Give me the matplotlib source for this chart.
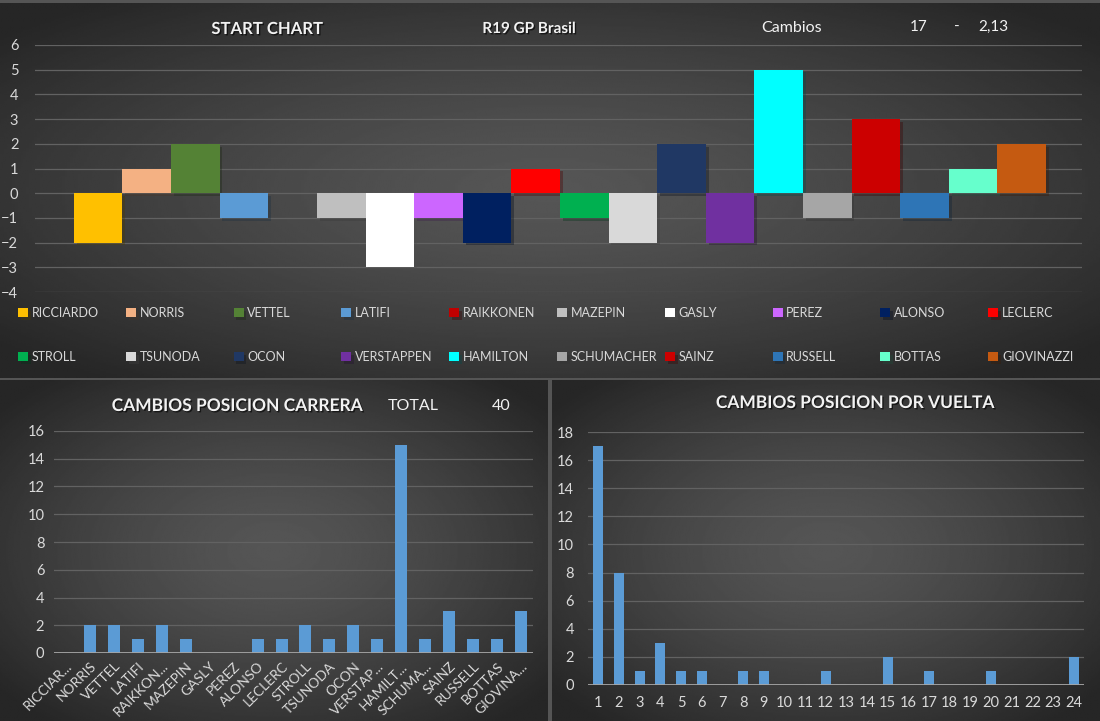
import numpy as np
import matplotlib.pyplot as plt
from matplotlib import patheffects as pe

plt.rcParams['font.family'] = ['Lato', 'DejaVu Sans']

# --- data ---
drivers = ['RICCIARDO', 'NORRIS', 'VETTEL', 'LATIFI', 'RAIKKONEN', 'MAZEPIN', 'GASLY',
           'PEREZ', 'ALONSO', 'LECLERC', 'STROLL', 'TSUNODA', 'OCON', 'VERSTAPPEN',
           'HAMILTON', 'SCHUMACHER', 'SAINZ', 'RUSSELL', 'BOTTAS', 'GIOVINAZZI']
driver_colors = ['#FFC000', '#F4B183', '#548235', '#5B9BD5', '#C00000', '#BFBFBF', '#FFFFFF',
                 '#CC66FF', '#002060', '#FF0000', '#00B050', '#D9D9D9', '#203864', '#7030A0',
                 '#00FFFF', '#A6A6A6', '#CC0000', '#2E75B6', '#66FFCC', '#C55A11']
start_delta = [-2, 1, 2, -1, 0, -1, -3, -1, -2, 1, -1, -2, 2, -2, 5, -1, 3, -1, 1, 2]

race_labels = ['RICCIAR...', 'NORRIS', 'VETTEL', 'LATIFI', 'RAIKKON...', 'MAZEPIN', 'GASLY',
               'PEREZ', 'ALONSO', 'LECLERC', 'STROLL', 'TSUNODA', 'OCON', 'VERSTAP...',
               'HAMILT...', 'SCHUMA...', 'SAINZ', 'RUSSELL', 'BOTTAS', 'GIOVINA...']
race_changes = [0, 2, 2, 1, 2, 1, 0, 0, 1, 1, 2, 1, 2, 1, 15, 1, 3, 1, 1, 3]

laps = list(range(1, 25))
lap_changes = [17, 8, 1, 3, 1, 1, 0, 1, 1, 0, 0, 1, 0, 0, 2, 0, 1, 0, 0, 1, 0, 0, 0, 2]

W, H = 1100, 721
TXT = '#d9d9d9'
GRID = '#626262'
BAR = '#5B9BD5'


def fx(x):
    return x / W


def fy(y):
    return 1 - y / H


def panel(fig, x0, y0, x1, y1):
    ax = fig.add_axes([fx(x0), fy(y1), fx(x1) - fx(x0), fy(y0) - fy(y1)], zorder=-5)
    yy, xx = np.mgrid[-1:1:240j, -1:1:400j]
    r = np.clip(np.sqrt(xx ** 2 + yy ** 2) / 1.3, 0, 1)
    val = 0.335 - (0.335 - 0.15) * r ** 1.4
    ax.imshow(val, cmap='gray', vmin=0, vmax=1, aspect='auto', interpolation='bilinear')
    ax.axis('off')
    return ax


def style(ax):
    ax.set_facecolor('none')
    for s in ax.spines.values():
        s.set_visible(False)
    ax.grid(axis='y', color=GRID, lw=0.9)
    ax.set_axisbelow(True)
    ax.tick_params(colors=TXT, length=0, labelsize=10.5)


def title(fig, x, y, s, size=11.5, bold=True):
    t = fig.text(fx(x), fy(y), s, ha='center', va='center', color='#f2f2f2',
                 fontsize=size, fontweight='bold' if bold else 'normal')
    if bold:
        t.set_path_effects([pe.withSimplePatchShadow(offset=(1, -1), shadow_rgbFace='black', alpha=0.6)])
    return t


fig = plt.figure(figsize=(11, 7.21), dpi=100)
fig.patch.set_facecolor('#555555')

panel(fig, 0, 3, 1100, 378)
panel(fig, 0, 380, 548, 721)
panel(fig, 552, 380, 1100, 721)

# --- top: start chart ---
ax1 = fig.add_axes([fx(35), fy(292), fx(1082) - fx(35), fy(45) - fy(292)])
style(ax1)
bars = []
for i, (name, v, c) in enumerate(zip(drivers, start_delta, driver_colors)):
    b = ax1.bar(i, v, width=1, color=c, label=name, linewidth=0)
    for p in b:
        p.set_path_effects([pe.SimplePatchShadow(offset=(2, -2), alpha=0.35), pe.Normal()])
    bars.append(b)
ax1.set_xlim(-1.3, 20.24)
ax1.set_ylim(-4, 6)
ax1.set_yticks(range(-4, 7))
ax1.set_xticks([])
ax1.tick_params(axis='y', pad=12)

title(fig, 267, 29, 'START CHART', size=12)
title(fig, 529, 29, 'R19 GP Brasil', size=11)
fig.text(fx(792), fy(28), 'Cambios', ha='center', va='center', color='#f2f2f2', fontsize=11.5)
fig.text(fx(919), fy(27), '17', ha='center', va='center', color='#f2f2f2', fontsize=11)
fig.text(fx(957), fy(27), '-', ha='center', va='center', color='#f2f2f2', fontsize=11)
fig.text(fx(993), fy(27), '2,13', ha='center', va='center', color='#f2f2f2', fontsize=11)

for col in range(10):
    hs = [bars[col], bars[col + 10]]
    ls = [drivers[col], drivers[col + 10]]
    fig.legend(hs, ls, loc='upper left', bbox_to_anchor=(fx(18 + col * 107.8), fy(307)),
               frameon=False, labelcolor=TXT, fontsize=9, handlelength=0.8,
               handleheight=0.8, handletextpad=0.3, labelspacing=2.55,
               borderpad=0, borderaxespad=0)

# --- bottom left: race position changes ---
ax2 = fig.add_axes([fx(54), fy(653), fx(533) - fx(54), fy(431) - fy(653)])
style(ax2)
x2 = np.arange(len(race_labels))
ax2.bar(x2, race_changes, width=0.5, color=BAR, linewidth=0, zorder=3)
ax2.set_xlim(-0.5, len(race_labels) - 0.5)
ax2.set_ylim(0, 16)
ax2.set_yticks(range(0, 17, 2))
ax2.set_xticks(x2)
ax2.set_xticklabels(race_labels, rotation=45, ha='right', rotation_mode='anchor', fontsize=10)
ax2.tick_params(axis='y', pad=7)
ax2.tick_params(axis='x', pad=5)
ax2.axhline(0, color='#a6a6a6', lw=2, zorder=4)

title(fig, 237, 406, 'CAMBIOS POSICION CARRERA', size=12.5)
fig.text(fx(413), fy(406), 'TOTAL', ha='center', va='center', color='#f2f2f2', fontsize=11.5)
fig.text(fx(501), fy(406), str(sum(race_changes)), ha='center', va='center', color='#f2f2f2', fontsize=11.5)

# --- bottom right: changes per lap ---
ax3 = fig.add_axes([fx(588), fy(685), fx(1084) - fx(588), fy(432) - fy(685)])
style(ax3)
x3 = np.arange(len(laps))
ax3.bar(x3, lap_changes, width=0.48, color=BAR, linewidth=0, zorder=3)
ax3.set_xlim(-0.5, len(laps) - 0.5)
ax3.set_ylim(0, 18)
ax3.set_yticks(range(0, 19, 2))
ax3.set_xticks(x3)
ax3.set_xticklabels([str(l) for l in laps])
ax3.tick_params(axis='y', pad=10)
ax3.tick_params(axis='x', pad=8)
ax3.axhline(0, color='#a6a6a6', lw=2, zorder=4)

title(fig, 855, 403, 'CAMBIOS POSICION POR VUELTA', size=12.5)

fig.savefig('out.png', dpi=100, facecolor=fig.get_facecolor())
